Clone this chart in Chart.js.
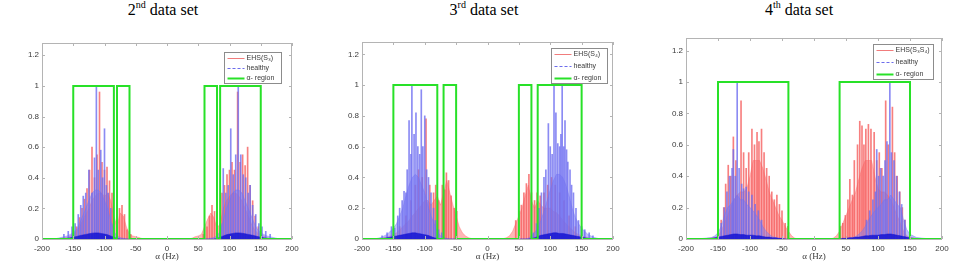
<!DOCTYPE html>
<html>
<head>
<meta charset="utf-8">
<script src="https://cdn.jsdelivr.net/npm/chart.js@4.4.1/dist/chart.umd.min.js"></script>
<style>
  html,body{margin:0;padding:0;background:#fff;}
  body{width:971px;height:265px;position:relative;overflow:hidden;}
  .ttl{position:absolute;top:0;font-family:"Liberation Serif","Times New Roman",serif;font-size:16px;line-height:20px;color:#000;transform:translateX(-50%);white-space:nowrap;}
  .ttl sup{font-size:10px;vertical-align:7px;line-height:0;}
  canvas{position:absolute;}
</style>
</head>
<body>
<div class="ttl" id="t0" style="left:163px">2<sup>nd</sup> data set</div>
<div class="ttl" id="t1" style="left:484px">3<sup>rd</sup> data set</div>
<div class="ttl" id="t2" style="left:799px">4<sup>th</sup> data set</div>
<canvas id="c0"></canvas>
<canvas id="c1"></canvas>
<canvas id="c2"></canvas>
<script>
// ---------------- DATA ----------------
const xTicks = [-200,-150,-100,-50,0,50,100,150,200];
const yTicks = [0,0.2,0.4,0.6,0.8,1,1.2];
const legendLabels = [
  ["EHS(S\u2083)","healthy","\u03b1- region"],
  ["EHS(S\u2084)","healthy","\u03b1- region"],
  ["EHS(S\u2083S\u2084)","healthy","\u03b1- region"]
];

// envelope frequency grid (Hz)
const envFreq = [-180,-175,-170,-165,-160,-155,-150,-145,-140,-135,
  -130,-125,-120,-115,-110,-105,-100,-95,-90,-85,
  -80,-75,-70,-65,-60,-55,-50,-45,-40,-35,
  -30,-25,-20,-15,-10,-5,0,5,10,15,
  20,25,30,35,40,45,50,55,60,65,
  70,75,80,85,90,95,100,105,110,115,
  120,125,130,135,140,145,150,155,160,165,
  170,175,180];

// ---- 2nd data set ----
const ds2RedEnv = [0,0,0.005,0.01,0.01,0.02,0.03,0.05,0.08,0.12,
  0.16,0.2,0.25,0.28,0.3,0.3,0.28,0.3,0.25,0.15,
  0.08,0.17,0.15,0.08,0.03,0.02,0.015,0.01,0.003,0,
  0,0,0,0,0,0,0,0,0,0,
  0,0,0,0,0.005,0.015,0.02,0.03,0.08,0.13,
  0.17,0.14,0.07,0.1,0.2,0.25,0.28,0.3,0.3,0.28,
  0.25,0.2,0.15,0.1,0.06,0.04,0.03,0.02,0.01,0.005,
  0,0,0];
const ds2BlueEnv = [0,0.005,0.01,0.015,0.02,0.03,0.04,0.06,0.1,0.15,
  0.2,0.25,0.3,0.32,0.32,0.3,0.25,0.2,0.12,0.05,
  0.02,0.01,0.005,0,0,0,0,0,0,0,
  0,0,0,0,0,0,0,0,0,0,
  0,0,0,0,0,0,0,0,0,0,
  0.005,0.01,0.02,0.05,0.12,0.2,0.25,0.3,0.32,0.32,
  0.3,0.25,0.2,0.15,0.1,0.06,0.04,0.03,0.02,0.015,
  0.01,0.005,0];
const ds2BlueBase = [0,0,0,0,0.004,0.008,0.012,0.016,0.022,0.026,
  0.03,0.034,0.038,0.04,0.04,0.036,0.032,0.028,0.02,0.012,
  0.004,0,0,0,0,0,0,0,0,0,
  0,0,0,0,0,0,0,0,0,0,
  0,0,0,0,0,0,0,0,0,0,
  0,0,0.004,0.012,0.02,0.028,0.032,0.036,0.04,0.04,
  0.038,0.034,0.03,0.026,0.022,0.016,0.012,0.008,0.004,0,
  0,0,0];
const ds2RedSpikeF = [-150,-145,-140,-136,-132,-128,-124,-120,-116,-112,-108,-104,-100,-96,-92,-88,-76,-72,-68,-64,-58,
  58,64,68,72,76,88,92,96,100,104,108,113,117,121,125,129,133,137,141,146,150];
const ds2RedSpikeV = [0.06,0.08,0.14,0.2,0.26,0.33,0.45,0.6,0.4,0.55,0.96,0.5,0.45,0.47,0.38,0.3,0.2,0.22,0.16,0.06,0.03,
  0.03,0.08,0.15,0.22,0.18,0.3,0.35,0.42,0.45,0.5,0.45,0.96,0.5,0.55,0.48,0.6,0.35,0.25,0.15,0.08,0.06];
const ds2BlueSpikeF = [-165,-158,-152,-147,-142,-138,-134,-130,-125,-120,-116,-113,-110,-106,-103,-100,-97,-94,-90,-86,
  86,90,94,98,102,106,110,114,118,122,126,130,133,137,142,147,152,158,165];
const ds2BlueSpikeV = [0.03,0.05,0.08,0.1,0.16,0.22,0.28,0.3,0.45,0.3,0.53,1.0,0.45,0.58,0.4,0.72,0.35,0.3,0.2,0.1,
  0.1,0.46,0.3,0.35,0.72,0.42,0.55,1.0,0.55,0.42,0.4,0.3,0.35,0.22,0.16,0.1,0.08,0.05,0.03];
const ds2RegionStart = [-150,-80,60,85];
const ds2RegionEnd   = [-85,-60,80,150];

// ---- 3rd data set ----
const ds3RedEnv = [0,0,0.005,0.01,0.015,0.02,0.03,0.04,0.06,0.08,
  0.1,0.12,0.15,0.17,0.2,0.22,0.25,0.25,0.22,0.25,
  0.28,0.22,0.3,0.38,0.3,0.22,0.15,0.08,0.04,0.02,
  0.008,0.002,0,0,0,0,0,0,0,0,
  0,0.002,0.008,0.02,0.05,0.1,0.15,0.2,0.28,0.35,
  0.25,0.2,0.25,0.22,0.2,0.2,0.2,0.18,0.17,0.15,
  0.12,0.1,0.08,0.06,0.04,0.03,0.02,0.015,0.01,0.005,
  0,0,0];
const ds3BlueEnv = [0,0.005,0.01,0.02,0.03,0.05,0.07,0.1,0.15,0.2,
  0.28,0.35,0.4,0.42,0.4,0.35,0.3,0.22,0.15,0.1,
  0.05,0.02,0.01,0.005,0,0,0,0,0,0,
  0,0,0,0,0,0,0,0,0,0,
  0,0,0,0,0,0,0,0,0,0.005,
  0.02,0.04,0.07,0.12,0.18,0.25,0.32,0.38,0.42,0.42,
  0.4,0.35,0.28,0.2,0.14,0.1,0.07,0.05,0.03,0.02,
  0.01,0.005,0];
const ds3BlueBase = [0,0,0,0.004,0.008,0.012,0.016,0.02,0.024,0.028,
  0.032,0.036,0.04,0.04,0.036,0.032,0.028,0.024,0.016,0.008,
  0.004,0,0,0,0,0,0,0,0,0,
  0,0,0,0,0,0,0,0,0,0,
  0,0,0,0,0,0,0,0,0,0,
  0.004,0.008,0.016,0.024,0.028,0.032,0.036,0.04,0.04,0.036,
  0.036,0.032,0.028,0.024,0.02,0.016,0.012,0.008,0.004,0,
  0,0,0];
const ds3RedSpikeF = [-140,-130,-122,-115,-110,-104,-98,-92,-86,-82.5,-78,-72,-68,-65.5,-62,-58,-53,-49,
  45,50,54,58,62,66,70,75,79,84,90,96,102,108,115,122,130,140];
const ds3RedSpikeV = [0.08,0.15,0.25,0.35,0.45,0.4,0.78,0.35,0.3,0.35,0.25,0.35,0.32,0.43,0.38,0.28,0.2,0.18,
  0.12,0.18,0.22,0.3,0.36,0.42,0.3,0.25,0.3,0.28,0.3,0.35,0.4,0.35,0.3,0.25,0.15,0.08];
const ds3BlueSpikeF = [-168,-160,-153,-148,-143,-140,-136,-133,-130,-128,-125,-122,-120.5,-117,-114,-111,-108,-105.5,-103,-100,-97,-94,-90,-86,-83,-78,-73,
  73,78,82,86,90,93,97,100,103,106,109,112,115,117,119,121.5,123.5,126,128,131.5,134,137,141,145,150,155,162,168];
const ds3BlueSpikeV = [0.02,0.04,0.08,0.07,0.15,0.2,0.25,0.31,0.3,0.45,0.77,0.55,1.0,0.68,0.82,0.6,0.55,0.97,0.6,0.8,0.45,0.4,0.3,0.2,0.12,0.06,0.04,
  0.04,0.1,0.2,0.3,0.4,0.45,0.75,0.6,0.55,1.0,0.82,0.62,0.6,0.68,1.0,0.6,0.77,0.58,0.5,0.45,0.35,0.3,0.2,0.12,0.08,0.06,0.04,0.02];
const ds3RegionStart = [-150,-70,50,80];
const ds3RegionEnd   = [-80,-50,70,150];

// ---- 4th data set ----
const ds4RedEnv = [0,0,0.002,0.005,0.008,0.01,0.02,0.05,0.1,0.15,
  0.2,0.25,0.28,0.3,0.3,0.32,0.4,0.5,0.5,0.5,
  0.45,0.38,0.3,0.25,0.2,0.15,0.12,0.08,0.05,0.02,
  0.005,0,0,0,0,0,0,0,0,0,
  0,0,0.005,0.02,0.05,0.1,0.15,0.2,0.25,0.3,
  0.38,0.45,0.5,0.5,0.5,0.4,0.32,0.3,0.3,0.28,
  0.25,0.2,0.15,0.1,0.05,0.02,0.01,0.008,0.005,0.002,
  0,0,0];
const ds4BlueEnv = [0,0.003,0.005,0.008,0.01,0.02,0.04,0.08,0.15,0.2,
  0.22,0.25,0.28,0.25,0.25,0.22,0.2,0.18,0.15,0.12,
  0.08,0.05,0.03,0.015,0.01,0.005,0,0,0,0,
  0,0,0,0,0,0,0,0,0,0,
  0,0,0,0,0,0,0,0.005,0.01,0.015,
  0.03,0.05,0.08,0.12,0.15,0.18,0.2,0.22,0.25,0.25,
  0.28,0.25,0.22,0.2,0.12,0.06,0.03,0.02,0.01,0.008,
  0.005,0.003,0];
const ds4BlueBase = [0,0,0,0,0.004,0.008,0.012,0.016,0.02,0.024,
  0.028,0.032,0.032,0.028,0.028,0.024,0.024,0.024,0.02,0.02,
  0.016,0.012,0.012,0.008,0.008,0.004,0.004,0,0,0,
  0,0,0,0,0,0,0,0,0,0,
  0,0,0,0,0,0.004,0.004,0.008,0.008,0.012,
  0.012,0.016,0.02,0.02,0.024,0.024,0.024,0.028,0.028,0.032,
  0.032,0.028,0.024,0.02,0.016,0.012,0.008,0.004,0,0,
  0,0,0];
const ds4RedSpikeF = [-145,-141,-138,-134,-130,-126,-122,-114,-110,-106,-102,-97,-93,-89,-86,-82,-78,-74,-70,-66,-62,-58,-54,-50,-45,-41,
  41,45,49,53,56,60,63,68,71.5,75,78,81,85,89,94,98,102,106,112,116,122.5,126,130,134,138,142];
const ds4RedSpikeV = [0.12,0.2,0.35,0.47,0.4,0.65,0.5,0.88,0.55,0.45,0.55,0.7,0.6,0.68,0.62,0.7,0.55,0.45,0.4,0.3,0.25,0.28,0.22,0.18,0.1,0.08,
  0.08,0.1,0.15,0.25,0.38,0.28,0.5,0.6,0.75,0.72,0.6,0.7,0.73,0.7,0.68,0.5,0.55,0.45,0.88,0.6,0.84,0.55,0.4,0.3,0.2,0.12];
const ds4BlueSpikeF = [-145,-140,-136,-132,-128,-126,-123,-120,-117,-113,-110,-106,-102,-97,-92,-87,-82,
  82,87,92,96,98,101,104,108,111,114,118.5,121,125,129,133.5,137,142];
const ds4BlueSpikeV = [0.1,0.2,0.3,0.4,0.45,0.57,0.4,1.0,0.45,0.35,0.32,0.33,0.3,0.28,0.22,0.18,0.12,
  0.12,0.18,0.25,0.3,0.57,0.4,0.45,0.4,0.5,0.62,1.0,0.55,0.5,0.4,0.3,0.22,0.12];
const ds4RegionStart = [-150,40];
const ds4RegionEnd   = [-40,150];

const regionLevel = 1;

// ---------------- LAYOUT ----------------
const layouts = [
  {plotL:42, plotR:292, plotT:43, plotB:239, leg:{w:57,h:31,mr:11,mt:9}},
  {plotL:362, plotR:613, plotT:42, plotB:239, leg:{w:56,h:35,mr:6,mt:6}},
  {plotL:686, plotR:942, plotT:38, plotB:239, leg:{w:60,h:35,mr:9,mt:6}}
];
const panels = [
  {redEnv:ds2RedEnv, blueEnv:ds2BlueEnv, blueBase:ds2BlueBase, redF:ds2RedSpikeF, redV:ds2RedSpikeV, blueF:ds2BlueSpikeF, blueV:ds2BlueSpikeV, rs:ds2RegionStart, re:ds2RegionEnd, labels:legendLabels[0]},
  {redEnv:ds3RedEnv, blueEnv:ds3BlueEnv, blueBase:ds3BlueBase, redF:ds3RedSpikeF, redV:ds3RedSpikeV, blueF:ds3BlueSpikeF, blueV:ds3BlueSpikeV, rs:ds3RegionStart, re:ds3RegionEnd, labels:legendLabels[1]},
  {redEnv:ds4RedEnv, blueEnv:ds4BlueEnv, blueBase:ds4BlueBase, redF:ds4RedSpikeF, redV:ds4RedSpikeV, blueF:ds4BlueSpikeF, blueV:ds4BlueSpikeV, rs:ds4RegionStart, re:ds4RegionEnd, labels:legendLabels[2]}
];

const TOP = 25, CH = 240, YAXW = 40, PADR = 12;
const BOX = '#b4b4b4', TXT = '#3a3a3a';
const SANS = '"Liberation Sans","DejaVu Sans",Arial,sans-serif';

const frame = {
  id:'frame',
  afterDraw(chart, args, opts){
    const {ctx, chartArea:a, scales} = chart;
    ctx.save();
    ctx.strokeStyle = BOX; ctx.lineWidth = 1;
    ctx.strokeRect(Math.round(a.left)+0.5, Math.round(a.top)+0.5, Math.round(a.right-a.left)-1, Math.round(a.bottom-a.top));
    ctx.beginPath();
    xTicks.forEach(v=>{
      const px = Math.round(scales.x.getPixelForValue(v))+0.5;
      ctx.moveTo(px, a.bottom); ctx.lineTo(px, a.bottom-3);
      ctx.moveTo(px, a.top); ctx.lineTo(px, a.top+3);
    });
    yTicks.forEach(v=>{
      const py = Math.round(scales.y.getPixelForValue(v))+0.5;
      ctx.moveTo(a.left, py); ctx.lineTo(a.left+3, py);
      ctx.moveTo(a.right, py); ctx.lineTo(a.right-3, py);
    });
    ctx.stroke();
    // legend
    const L = opts.leg, labels = opts.labels;
    const bx = Math.round(a.right - L.mr - L.w)+0.5, by = Math.round(a.top + L.mt)+0.5;
    ctx.fillStyle = '#fff';
    ctx.fillRect(bx, by, L.w, L.h);
    ctx.strokeStyle = '#8c8c8c';
    ctx.strokeRect(bx, by, L.w, L.h);
    const rowH = L.h/3;
    const styles = [
      {c:'rgba(240,110,110,0.9)', w:1, d:[]},
      {c:'rgba(100,100,235,0.95)', w:1, d:[3,2]},
      {c:'rgb(40,225,40)', w:2, d:[]}
    ];
    ctx.font = '7px ' + SANS;
    ctx.textBaseline = 'middle';
    ctx.textAlign = 'left';
    for (let i=0;i<3;i++){
      const cy = by + rowH*(i+0.5);
      ctx.beginPath();
      ctx.setLineDash(styles[i].d);
      ctx.strokeStyle = styles[i].c; ctx.lineWidth = styles[i].w;
      ctx.moveTo(bx+3, Math.round(cy)+0.5); ctx.lineTo(bx+20, Math.round(cy)+0.5);
      ctx.stroke();
      ctx.setLineDash([]);
      ctx.fillStyle = TXT;
      ctx.fillText(labels[i], bx+22, cy);
    }
    ctx.restore();
  }
};

function pts(xs, ys){ return xs.map((x,i)=>({x:x, y:ys[i]})); }
function regionPts(starts, ends){
  const out = [{x:-200,y:0}];
  starts.forEach((s,i)=>{
    out.push({x:s,y:0},{x:s,y:regionLevel},{x:ends[i],y:regionLevel},{x:ends[i],y:0});
  });
  out.push({x:200,y:0});
  return out;
}

panels.forEach((p,k)=>{
  const lay = layouts[k];
  const cv = document.getElementById('c'+k);
  const W = lay.plotR - lay.plotL + YAXW + PADR;
  cv.width = W; cv.height = CH;
  cv.style.left = (lay.plotL - YAXW) + 'px';
  cv.style.top = TOP + 'px';
  cv.style.width = W+'px'; cv.style.height = CH+'px';
  const xAxisH = CH - (lay.plotB - TOP);
  new Chart(cv, {
    type:'line',
    data:{datasets:[
      {type:'line', data:pts(envFreq,p.redEnv), fill:'origin', backgroundColor:'rgba(255,110,110,0.5)', borderColor:'rgba(255,90,90,0.6)', borderWidth:0.6, pointRadius:0, tension:0, order:7},
      {type:'bar', data:pts(p.redF,p.redV), backgroundColor:'rgba(245,95,95,0.8)', barThickness:1, grouped:false, order:6},
      {type:'line', data:pts(envFreq,p.blueEnv), fill:'origin', backgroundColor:'rgba(125,125,245,0.5)', borderColor:'rgba(110,110,240,0.6)', borderWidth:0.6, pointRadius:0, tension:0, order:5},
      {type:'bar', data:pts(p.blueF,p.blueV), backgroundColor:'rgba(110,110,240,0.8)', barThickness:1, grouped:false, order:4},
      {type:'line', data:pts(envFreq,p.blueBase), fill:'origin', backgroundColor:'rgba(20,20,210,0.85)', borderColor:'rgba(20,20,210,0.85)', borderWidth:0.6, pointRadius:0, tension:0, order:3},
      {type:'line', data:regionPts(p.rs,p.re), fill:false, borderColor:'rgb(40,225,40)', borderWidth:2, pointRadius:0, tension:0, order:1}
    ]},
    options:{
      animation:false, responsive:false, maintainAspectRatio:false, events:[],
      layout:{padding:{left:0, right:PADR, top:lay.plotT - TOP, bottom:0}},
      plugins:{legend:{display:false}, tooltip:{enabled:false}, title:{display:false}, frame:{leg:lay.leg, labels:p.labels}},
      scales:{
        x:{type:'linear', min:-200, max:200, offset:false,
           grid:{display:false, drawTicks:false, offset:false}, border:{display:false},
           afterBuildTicks: s=>{ s.ticks = xTicks.map(v=>({value:v})); },
           afterFit: s=>{ s.height = xAxisH; },
           ticks:{font:{family:SANS,size:8}, color:TXT, padding:5, maxRotation:0, autoSkip:false},
           title:{display:true, text:'\u03b1 (Hz)', font:{family:'"Liberation Serif","Times New Roman",serif', size:9}, color:TXT, padding:{top:0,bottom:3}}
        },
        y:{type:'linear', min:0, max:1.28,
           grid:{display:false, drawTicks:false}, border:{display:false},
           afterBuildTicks: s=>{ s.ticks = yTicks.map(v=>({value:v})); },
           afterFit: s=>{ s.width = YAXW; },
           ticks:{font:{family:SANS,size:8}, color:TXT, padding:3, callback:v=>String(Math.round(v*10)/10)}
        }
      }
    },
    plugins:[frame]
  });
});
</script>
</body>
</html>
